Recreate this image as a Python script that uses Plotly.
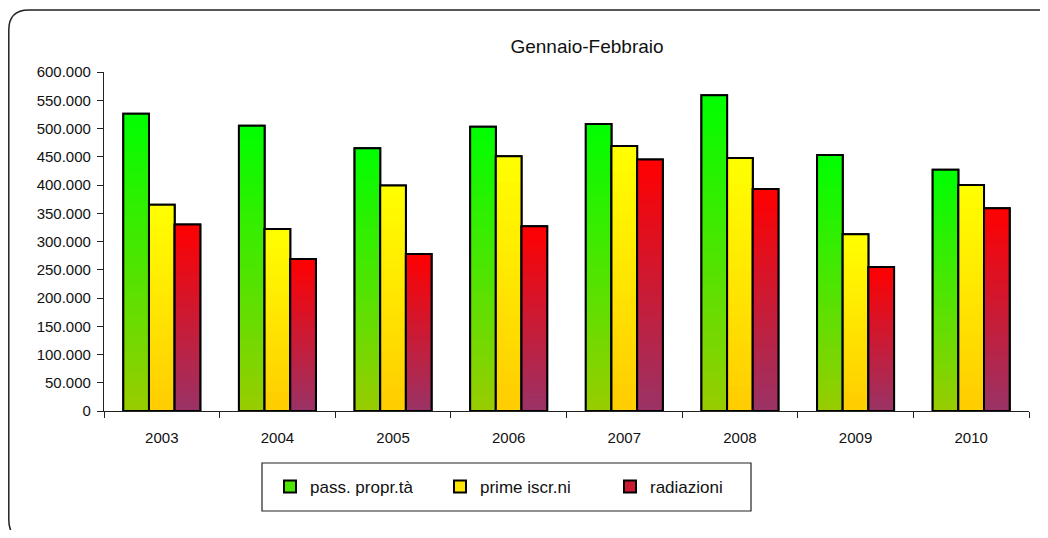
import plotly.graph_objects as go

# ---------------- data ----------------
years = ["2003", "2004", "2005", "2006", "2007", "2008", "2009", "2010"]
pass_propr = [526000, 505000, 465000, 503000, 508000, 559000, 453000, 427000]
prime_iscr = [365000, 322000, 399000, 451000, 469000, 448000, 313000, 400000]
radiazioni = [330000, 269000, 278000, 327000, 445000, 393000, 255000, 359000]
series_names = ["pass. propr.tà", "prime iscr.ni", "radiazioni"]
title_text = "Gennaio-Febbraio"

# gradient colours (top, bottom) per series
grad_top = [(0, 255, 0), (255, 255, 0), (255, 0, 0)]
grad_bot = [(153, 204, 0), (255, 204, 0), (153, 51, 102)]

FONT = "Liberation Sans, Arial, sans-serif"
OFF = 8  # default page body margin
W, H = 1032, 522
ML, MT = 104 - OFF, 72 - OFF
MR = W - (1029 - OFF)
MB = H - (411 - OFF)
PW, PH = 925, 339


def px_x(px):  # page pixel -> paper x
    return (px - 104) / PW


def px_y(py):  # page pixel -> paper y
    return (411 - py) / PH


def mix(c1, c2, t):
    return "rgb(%d,%d,%d)" % tuple(round(a + (b - a) * t) for a, b in zip(c1, c2))


fig = go.Figure()
N = 40
all_series = [pass_propr, prime_iscr, radiazioni]
for s, (name, vals) in enumerate(zip(series_names, all_series)):
    og = str(s)
    fig.add_trace(go.Bar(
        x=years, y=vals, name=name, offsetgroup=og,
        marker=dict(color=mix(grad_top[s], grad_bot[s], 0.5),
                    line=dict(color="black", width=2)),
        showlegend=True, hoverinfo="skip"))
    for k in range(N, 0, -1):
        frac = k / N
        t = 1 - (k - 0.5) / N
        fig.add_trace(go.Bar(
            x=years, y=[v * frac for v in vals], offsetgroup=og,
            marker=dict(color=mix(grad_top[s], grad_bot[s], t), line=dict(width=0)),
            showlegend=False, hoverinfo="skip"))
    fig.add_trace(go.Bar(
        x=years, y=vals, offsetgroup=og, name=name,
        marker=dict(color="rgba(0,0,0,0)", line=dict(color="black", width=2)),
        showlegend=False, hovertemplate="%{x}: %{y:,}<extra>" + name + "</extra>"))

# rounded outer border (page pixel coords)
x0, y0, x1, y1, r = 8.8, 10, 1058, 540, 20


def P(px, py):
    return "%.5f,%.5f" % (px_x(px), px_y(py))


border = ("M " + P(x0 + r, y0) + " L " + P(x1 - r, y0) + " Q " + P(x1, y0) + " " + P(x1, y0 + r) +
          " L " + P(x1, y1 - r) + " Q " + P(x1, y1) + " " + P(x1 - r, y1) +
          " L " + P(x0 + r, y1) + " Q " + P(x0, y1) + " " + P(x0, y1 - r) +
          " L " + P(x0, y0 + r) + " Q " + P(x0, y0) + " " + P(x0 + r, y0) + " Z")

shapes = [
    dict(type="path", path=border, xref="paper", yref="paper",
         line=dict(color="#222222", width=1.5), layer="above"),
    dict(type="rect", xref="paper", yref="paper",
         x0=px_x(262), x1=px_x(751), y0=px_y(463), y1=px_y(511),
         line=dict(color="#222222", width=1.2), fillcolor="rgba(0,0,0,0)"),
]

fig.update_layout(
    width=W, height=H,
    margin=dict(l=ML, r=MR, t=MT, b=MB, pad=0),
    paper_bgcolor="white", plot_bgcolor="white",
    barmode="group", bargap=0.334, bargroupgap=0,
    separators=",.",
    font=dict(family=FONT, size=15, color="#111111"),
    title=dict(text=title_text, x=px_x(587), xref="paper", xanchor="center",
               y=1 - (46 - OFF) / H, yanchor="middle",
               font=dict(family=FONT, size=19, color="#111111")),
    showlegend=True,
    legend=dict(orientation="h", x=px_x(270), xanchor="left",
                y=px_y(487), yanchor="middle",
                bgcolor="rgba(0,0,0,0)", borderwidth=0,
                font=dict(family=FONT, size=17, color="#111111"),
                entrywidth=125, entrywidthmode="pixels"),
    shapes=shapes,
    xaxis=dict(type="category", showgrid=False, showline=True, linecolor="#222222",
               linewidth=1.2, ticks="outside", tickson="boundaries", ticklen=6,
               tickcolor="#222222", ticklabelstandoff=13,
               tickfont=dict(family=FONT, size=15, color="#111111")),
    yaxis=dict(range=[0, 600000], dtick=50000, tickformat=",d", showgrid=False,
               zeroline=False, showline=True, linecolor="#222222", linewidth=1.2,
               ticks="outside", ticklen=6, tickcolor="#222222", ticklabelstandoff=3,
               tickfont=dict(family=FONT, size=15, color="#111111")),
)

fig.write_html("out.html")
